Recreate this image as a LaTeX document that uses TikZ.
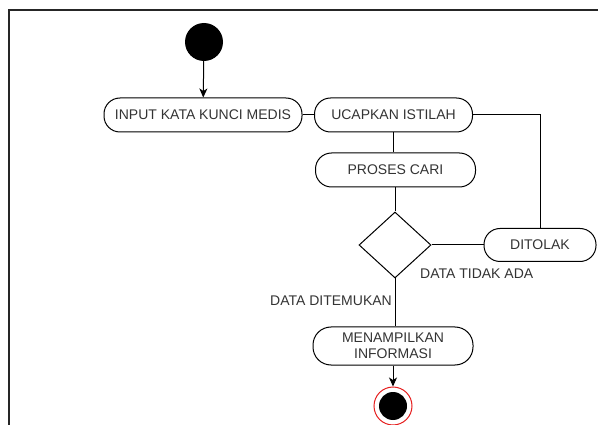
\documentclass[tikz,border=0pt]{standalone}
\usepackage{fontspec}
\setmainfont{Liberation Sans}
\usetikzlibrary{shapes.geometric,arrows.meta}
\definecolor{txt}{RGB}{51,51,51}
\definecolor{endred}{RGB}{230,30,30}
\tikzset{
  act/.style={draw=black, line width=1pt, rectangle, rounded corners=16pt,
    minimum height=34pt, inner sep=0pt, text=txt,
    font=\fontsize{14}{16}\selectfont, align=center},
  decision/.style={draw=black, line width=1pt, diamond, minimum width=72pt,
    minimum height=66pt, inner sep=0pt},
  lbl/.style={text=txt, font=\fontsize{14}{16}\selectfont, inner sep=0pt},
  flow/.style={line width=1pt, draw=black},
  arr/.style={flow, -{Stealth[length=9pt,width=8pt,inset=2.5pt]}},
}
\begin{document}
\begin{tikzpicture}[x=1pt,y=-1pt]
\useasboundingbox (0,0) rectangle (598,425);
% border of the sheet
\draw[line width=1.5pt, black!85] (9,425) -- (9,10) -- (598,10);

% start and end states
\node (start) [circle, fill=black, minimum size=38pt, inner sep=0pt] at (204,42) {};
\node (endout) [circle, draw=endred, line width=1pt, fill=white, minimum size=38pt, inner sep=0pt] at (393,406) {};
\node (endin) [circle, fill=black, minimum size=28pt, inner sep=0pt] at (393,406) {};

% activities
\node (input) [act, minimum width=198pt] at (203,115) {INPUT KATA KUNCI MEDIS};
\node (ucap) [act, minimum width=158pt] at (393.5,115) {UCAPKAN ISTILAH};
\node (proses) [act, minimum width=160pt] at (395.5,170) {PROSES CARI};
\node (cek) [decision] at (395,245) {};
\node (tolak) [act, minimum width=112pt, minimum height=33pt] at (540,245) {DITOLAK};
\node (tampil) [act, minimum width=160pt, minimum height=38pt, rounded corners=18pt] at (393,346) {MENAMPILKAN\\INFORMASI};

% guard labels
\node (ltidak) [lbl, anchor=west] at (420,274) {DATA TIDAK ADA};
\node (lada) [lbl, anchor=east] at (392,301) {DATA DITEMUKAN};

% flows
\draw[arr] (start) -- (input);
\draw[flow] (input.east) -- (ucap.west);
\draw[flow] (ucap.south) -- (ucap.south |- proses.north);
\draw[flow] (cek.north |- proses.south) -- (cek.north);
\draw[flow] (cek.east) -- (tolak.west);
\draw[flow] (tolak.north) |- (ucap.east);
\draw[flow] (cek.south) -- (cek.south |- tampil.north);
\draw[arr] (tampil.south) -- (endout.north);
\end{tikzpicture}
\end{document}
